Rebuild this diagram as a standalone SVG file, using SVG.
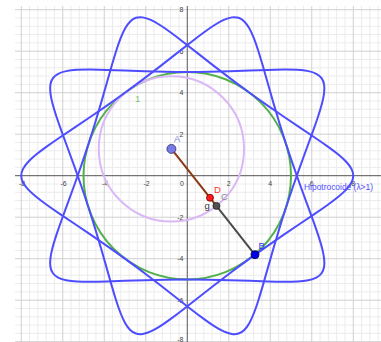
<svg xmlns="http://www.w3.org/2000/svg" width="381" height="342" viewBox="0 0 381 342">
<defs>
<style>
.minor{stroke:#ececec;stroke-width:1;fill:none}
.major{stroke:#d0d0d0;stroke-width:1;fill:none}
.axis{stroke:#555;stroke-width:1;fill:none}
.tick{font-family:"Liberation Sans",Arial,sans-serif;font-size:7px;fill:#444}
.tx{text-anchor:middle}
.ty{text-anchor:end}
.lbl{font-family:"Liberation Sans",Arial,sans-serif;font-size:9.5px}
.curve{fill:none;stroke:#4d4dff;stroke-width:0.0964;stroke-linejoin:round}
.pt{stroke-width:0.8}
</style>
<path id="seg" class="curve" d="M2.9389 4.0451C3.2213 3.8399 3.5055 3.6373 3.7874 3.4397C4.0693 3.2421 4.3489 3.0496 4.6217 2.8640C4.8945 2.6784 5.1605 2.4996 5.4154 2.3288C5.6703 2.1580 5.9139 1.9952 6.1422 1.8405C6.3705 1.6858 6.5832 1.5392 6.7768 1.4002C6.9704 1.2612 7.1447 1.1299 7.2966 1.0049C7.4485 0.8799 7.5779 0.7613 7.6824 0.6472C7.7869 0.5331 7.8665 0.4236 7.9198 0.3165C7.9731 0.2094 8 0.1047 8 0C8 -0.1047 7.9731 -0.2094 7.9198 -0.3165C7.8665 -0.4236 7.7869 -0.5331 7.6824 -0.6472C7.5779 -0.7613 7.4485 -0.8799 7.2966 -1.0049C7.1447 -1.1299 6.9704 -1.2612 6.7768 -1.4002C6.5832 -1.5392 6.3705 -1.6858 6.1422 -1.8405C5.9139 -1.9952 5.6703 -2.1580 5.4154 -2.3288C5.1605 -2.4996 4.8945 -2.6784 4.6217 -2.8640C4.3489 -3.0496 4.0693 -3.2421 3.7874 -3.4397C3.5055 -3.6373 3.2213 -3.8399 2.9389 -4.0451"/>
</defs>
<rect width="381" height="342" fill="#fff"/>
<g id="grid">
<path class="minor" d="M29.55 6V342M37.85 6V342M46.15 6V342M54.45 6V342M71.05 6V342M79.35 6V342M87.65 6V342M95.95 6V342M112.55 6V342M120.85 6V342M129.15 6V342M137.45 6V342M154.05 6V342M162.35 6V342M170.65 6V342M178.95 6V342M195.55 6V342M203.85 6V342M212.15 6V342M220.45 6V342M237.05 6V342M245.35 6V342M253.65 6V342M261.95 6V342M278.55 6V342M286.85 6V342M295.15 6V342M303.45 6V342M320.05 6V342M328.35 6V342M336.65 6V342M344.95 6V342M361.55 6V342M369.85 6V342M378.15 6V342M15 18H381M15 26.3H381M15 34.6H381M15 42.9H381M15 59.5H381M15 67.8H381M15 76.1H381M15 84.4H381M15 101H381M15 109.3H381M15 117.6H381M15 125.9H381M15 142.5H381M15 150.8H381M15 159.1H381M15 167.4H381M15 184H381M15 192.3H381M15 200.6H381M15 208.9H381M15 225.5H381M15 233.8H381M15 242.1H381M15 250.4H381M15 267H381M15 275.3H381M15 283.6H381M15 291.9H381M15 308.5H381M15 316.8H381M15 325.1H381M15 333.4H381"/>
<path class="major" d="M21.25 6V342M62.75 6V342M104.25 6V342M145.75 6V342M228.75 6V342M270.25 6V342M311.75 6V342M353.25 6V342M15 9.7H381M15 51.2H381M15 92.7H381M15 134.2H381M15 217.2H381M15 258.7H381M15 300.2H381M15 341.7H381"/>
</g>
<g id="axes">
<path class="axis" d="M15 175.7H381M187.25 6V342"/>
<g class="tick tx">
<text x="22" y="186">-8</text>
<text x="63.5" y="186">-6</text>
<text x="105" y="186">-4</text>
<text x="146.5" y="186">-2</text>
<text x="182" y="185.5">0</text>
<text x="228.75" y="185.5">2</text>
<text x="270.25" y="185.5">4</text>
<text x="311.75" y="185.5">6</text>
<text x="353.25" y="185.5">8</text>
</g>
<g class="tick ty">
<text x="183.5" y="12">8</text>
<text x="183.5" y="53.5">6</text>
<text x="183.5" y="95">4</text>
<text x="183.5" y="136.5">2</text>
<text x="183.5" y="219.5">-2</text>
<text x="183.5" y="261">-4</text>
<text x="183.5" y="302.5">-6</text>
<text x="183.5" y="341.5">-8</text>
</g>
</g>
<g id="circle-fixed">
<circle cx="187.25" cy="175.7" r="103.75" fill="none" stroke="#52b04a" stroke-width="2"/>
</g>
<g id="circle-rolling">
<circle cx="171.41" cy="148.91" r="72.63" fill="none" stroke="#dab8f6" stroke-width="2"/>
<text class="lbl" x="135" y="102" font-size="8" fill="#7cc46f">1</text>
</g>
<g id="hipotrocoide">
<g transform="translate(187.25 175.7) scale(20.75 -20.75)">
<use href="#seg"/>
<use href="#seg" transform="rotate(36)"/>
<use href="#seg" transform="rotate(72)"/>
<use href="#seg" transform="rotate(108)"/>
<use href="#seg" transform="rotate(144)"/>
<use href="#seg" transform="rotate(180)"/>
<use href="#seg" transform="rotate(216)"/>
<use href="#seg" transform="rotate(252)"/>
<use href="#seg" transform="rotate(288)"/>
<use href="#seg" transform="rotate(324)"/>
</g>
<text class="lbl" x="304" y="190" fill="#4d4dff" textLength="69" lengthAdjust="spacingAndGlyphs">Hipotrocoide (λ&gt;1)</text>
</g>
<g id="connectors">
<line x1="171.41" y1="148.91" x2="216.42" y2="205.9" stroke="#8a3a12" stroke-width="2"/>
<line x1="216.42" y1="205.9" x2="255" y2="254.76" stroke="#4a4a4a" stroke-width="2"/>
<text class="lbl" x="204.5" y="208.5" fill="#333">g</text>
</g>
<g id="A">
<circle class="pt" cx="171.41" cy="148.91" r="4.5" fill="#7a7ae6" stroke="#2b2b6b"/>
<text class="lbl" x="174" y="142" fill="#8a8ae8">A</text>
</g>
<g id="D">
<circle class="pt" cx="209.99" cy="197.76" r="3.5" fill="#ff1a1a" stroke="#660000"/>
<text class="lbl" x="214" y="192.5" fill="#ff3333">D</text>
</g>
<g id="C">
<circle class="pt" cx="216.42" cy="205.9" r="3.5" fill="#505050" stroke="#222"/>
<text class="lbl" x="221" y="200" fill="#888">C</text>
</g>
<g id="B">
<circle class="pt" cx="255" cy="254.76" r="4" fill="#0000e0" stroke="#000050"/>
<text class="lbl" x="258.5" y="248.5" fill="#3333ff">B</text>
</g>
</svg>
